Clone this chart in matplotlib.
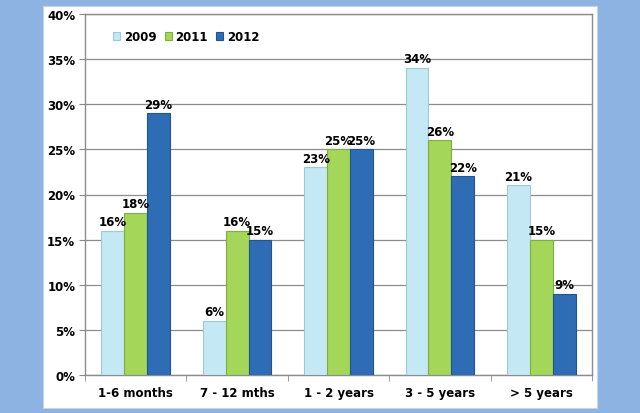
import numpy as np
import matplotlib.pyplot as plt

categories = ['1-6 months', '7 - 12 mths', '1 - 2 years', '3 - 5 years', '> 5 years']
years = ['2009', '2011', '2012']
v2009 = [16, 6, 23, 34, 21]
v2011 = [18, 16, 25, 26, 15]
v2012 = [29, 15, 25, 22, 9]

colors = ['#c4e8f4', '#a4d65a', '#2e6db6']
edges = ['#9ccbd8', '#7fae3c', '#22548f']

fig = plt.figure(figsize=(6.4, 4.14), dpi=100)
fig.patch.set_facecolor('#8db3e2')
# white panel behind the chart
bg = fig.add_axes([43/640, 1-409/414, (597-43)/640, (409-7)/414], zorder=-1)
bg.set_xticks([])
bg.set_yticks([])
bg.set_facecolor('white')
for s in bg.spines.values():
    s.set_color('#c8d4e4')

ax = fig.add_axes([85/640, 1-376/414, (592-85)/640, (376-15)/414], zorder=1)
ax.set_facecolor('white')
x = np.arange(len(categories))
w = 0.225
for i, (vals, c, e) in enumerate(zip([v2009, v2011, v2012], colors, edges)):
    bars = ax.bar(x + (i-1)*w, vals, w, color=c, edgecolor=e, linewidth=0.8,
                  label=years[i], zorder=3)
    for b, v in zip(bars, vals):
        ax.text(b.get_x()+b.get_width()/2, v+0.3, f'{v}%', ha='center', va='bottom',
                fontsize=8.5, fontweight='bold', zorder=4)

ax.set_xlim(-0.5, len(categories)-0.5)
ax.set_ylim(0, 40)
ax.set_yticks(np.arange(0, 41, 5))
ax.set_yticklabels([f'{t}%' for t in range(0, 41, 5)], fontsize=8.5, fontweight='bold')
ax.set_xticks(x)
ax.set_xticklabels(categories, fontsize=8.5, fontweight='bold')
ax.set_xticks(np.arange(-0.5, len(categories)), minor=True)
ax.tick_params(axis='x', which='major', length=0, pad=8)
ax.tick_params(axis='x', which='minor', length=4, color='#888888')
ax.tick_params(axis='y', length=4, color='#888888', pad=3)
ax.grid(axis='y', color='#8c8c8c', linewidth=0.9, zorder=0)
for s in ax.spines.values():
    s.set_color('#8c8c8c')
    s.set_linewidth(1)

leg = ax.legend(loc='upper left', bbox_to_anchor=(0.035, 0.985), ncol=3, frameon=False,
                prop={'size': 8.5, 'weight': 'bold'}, handlelength=0.6, handleheight=0.6,
                columnspacing=0.7, handletextpad=0.3)

fig.savefig('out.png', dpi=100, facecolor=fig.get_facecolor())
